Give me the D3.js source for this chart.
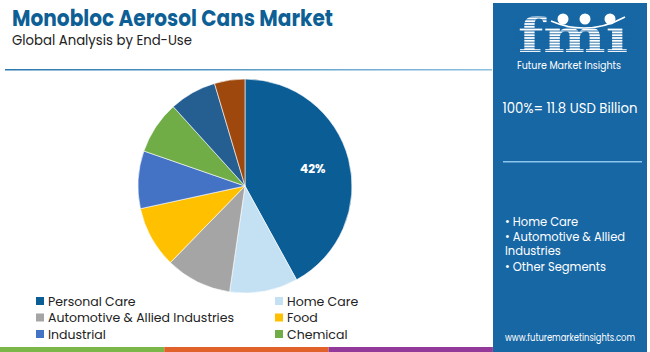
<!DOCTYPE html>
<html>
<head>
<meta charset="utf-8">
<script src="https://cdn.jsdelivr.net/npm/d3@7"></script>
<style>
  html, body { margin: 0; padding: 0; background: #fff; }
  svg { display: block; font-family: "Poppins", "Open Sans", "Noto Sans", sans-serif; }
</style>
</head>
<body>
<svg id="chart" width="650" height="352"></svg>
<script>
// data
var segments = ["Personal Care", "Home Care", "Automotive & Allied Industries", "Food", "Industrial", "Chemical", "Pharmaceutical", "Others"];
var shares = [42, 10.3, 10, 9.3, 8.7, 8, 7.1, 4.6];
var colors = ["#0b5d96", "#c4e1f4", "#a5a5a5", "#ffc000", "#4472c4", "#70ad47", "#255e91", "#9e480e"];
var legendItems = segments.slice(0, 6);
var bullets = ["Home Care", "Automotive & Allied", "Industries", "Other Segments"];
var totalText = "100%= 11.8 USD Billion";

var svg = d3.select("#chart");

// titles
svg.append("text")
    .attr("x", 12).attr("y", 26)
    .attr("font-size", 23).attr("font-weight", "bold")
    .attr("fill", "#0d5f95")
    .attr("textLength", 321).attr("lengthAdjust", "spacingAndGlyphs")
    .text("Monobloc Aerosol Cans Market");
svg.append("text")
    .attr("x", 12).attr("y", 45)
    .attr("font-size", 13.5).attr("fill", "#222")
    .attr("textLength", 180).attr("lengthAdjust", "spacingAndGlyphs")
    .text("Global Analysis by End-Use");

// rule under the title
var grad = svg.append("defs").append("linearGradient").attr("id", "rule");
grad.append("stop").attr("offset", "0%").attr("stop-color", "#2a78ad");
grad.append("stop").attr("offset", "100%").attr("stop-color", "#8cbfe0");
svg.append("rect").attr("x", 5).attr("y", 69).attr("width", 487).attr("height", 1.5).attr("fill", "url(#rule)");

// pie
var pie = d3.pie().sort(null).value(d => d);
var arc = d3.arc().innerRadius(0).outerRadius(107);
var labelArc = d3.arc().innerRadius(70).outerRadius(70);
var g = svg.append("g").attr("transform", "translate(245,186)");
var arcs = pie(shares);
g.selectAll("path")
    .data(arcs)
    .enter()
    .append("path")
    .attr("d", arc)
    .attr("fill", (d, i) => colors[i])
    .attr("stroke", "#fff")
    .attr("stroke-width", 0.6);
g.append("text")
    .attr("transform", "translate(" + labelArc.centroid(arcs[0]) + ")")
    .attr("text-anchor", "middle").attr("dy", 4)
    .attr("font-size", 12).attr("font-weight", "bold").attr("fill", "#fff")
    .text(shares[0] + "%");

// legend
var legend = svg.append("g");
var lg = legend.selectAll("g")
    .data(legendItems)
    .enter()
    .append("g")
    .attr("transform", (d, i) => "translate(" + (i % 2 ? 275 : 36) + "," + (301 + Math.floor(i / 2) * 16.5) + ")");
lg.append("rect").attr("x", 0).attr("y", -4).attr("width", 8).attr("height", 8)
    .attr("fill", (d, i) => colors[i]);
lg.append("text").attr("x", 12).attr("y", 4.5)
    .attr("font-size", 12.5).attr("fill", "#222")
    .text(d => d);

// bottom stripe
var stripe = ["#7ab648", "#e0622a", "#93399a"];
svg.selectAll(".stripe")
    .data(stripe)
    .enter()
    .append("rect")
    .attr("class", "stripe")
    .attr("x", (d, i) => i * 164.3).attr("y", 347)
    .attr("width", 164.3).attr("height", 5)
    .attr("fill", d => d);

// right panel
var panel = svg.append("g").attr("transform", "translate(493,3)");
panel.append("rect").attr("width", 154).attr("height", 349).attr("fill", "#1767a4");

// logo: big letters striped by panel-coloured lines, globes over m and i
var logo = panel.append("g");
logo.append("text")
    .attr("x", 25).attr("y", 49)
    .attr("font-family", "DejaVu Serif, serif").attr("font-weight", "bold")
    .attr("font-size", 46).attr("fill", "#fff")
    .attr("textLength", 110).attr("lengthAdjust", "spacingAndGlyphs")
    .text("fm\u0131");
logo.selectAll("line")
    .data(d3.range(14, 50, 2.8))
    .enter()
    .append("line")
    .attr("x1", 20).attr("x2", 140)
    .attr("y1", d => d).attr("y2", d => d)
    .attr("stroke", "#1767a4").attr("stroke-width", 0.9);
logo.selectAll("circle")
    .data([70, 92, 117])
    .enter()
    .append("circle")
    .attr("cx", d => d).attr("cy", 16).attr("r", 5.5)
    .attr("fill", "#fff");
logo.append("path")
    .attr("d", "M58,18 Q95,34 132,14")
    .attr("fill", "none").attr("stroke", "#fff").attr("stroke-width", 1.5);
logo.append("text")
    .attr("x", 76).attr("y", 66)
    .attr("text-anchor", "middle")
    .attr("font-size", 10.5).attr("fill", "#fff")
    .attr("textLength", 104).attr("lengthAdjust", "spacingAndGlyphs")
    .text("Future Market Insights");

panel.append("text")
    .attr("x", 77).attr("y", 110)
    .attr("text-anchor", "middle")
    .attr("font-size", 14.5).attr("fill", "#fff")
    .attr("textLength", 135).attr("lengthAdjust", "spacingAndGlyphs")
    .text(totalText);
panel.append("rect").attr("x", 10).attr("y", 158).attr("width", 139).attr("height", 1.5).attr("fill", "#8cc6ec");

panel.selectAll(".bullet")
    .data(bullets)
    .enter()
    .append("text")
    .attr("class", "bullet")
    .attr("x", 12)
    .attr("y", (d, i) => [223, 237.5, 251.5, 268][i])
    .attr("font-size", 11.5).attr("fill", "#fff")
    .text(d => d == "Industries" ? d : "\u2022 " + d);

panel.append("text")
    .attr("x", 77).attr("y", 338)
    .attr("text-anchor", "middle")
    .attr("font-size", 10).attr("fill", "#fff")
    .attr("textLength", 130).attr("lengthAdjust", "spacingAndGlyphs")
    .text("www.futuremarketinsights.com");
</script>
</body>
</html>
